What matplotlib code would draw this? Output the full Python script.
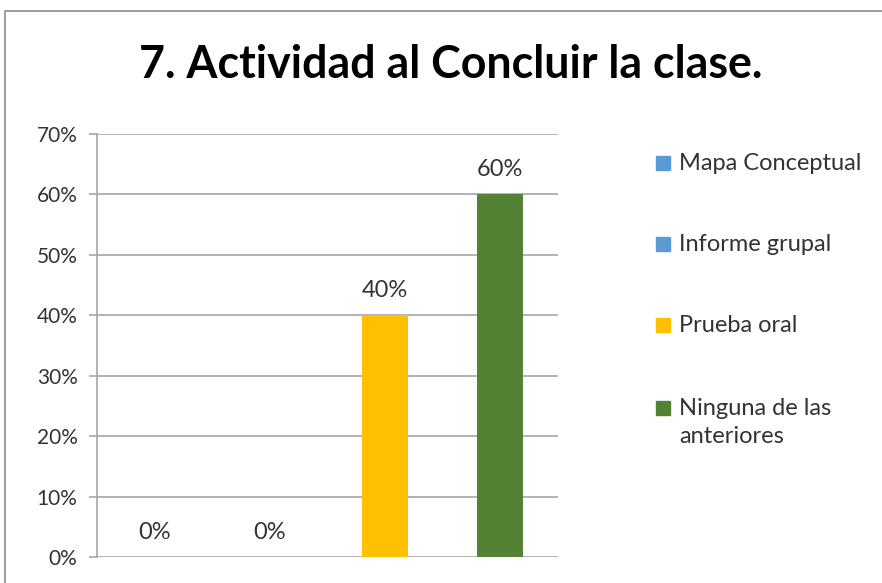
import matplotlib
matplotlib.use("Agg")
import matplotlib.pyplot as plt
from matplotlib.patches import Rectangle
from matplotlib.ticker import FuncFormatter, MultipleLocator

plt.rcParams['font.family'] = ['Lato', 'DejaVu Sans']

title = "7. Actividad al Concluir la clase."
categories = ["Mapa Conceptual", "Informe grupal", "Prueba oral", "Ninguna de las\nanteriores"]
values = [0.0, 0.0, 0.40, 0.60]
colors = ["#5B9BD5", "#5B9BD5", "#FFC000", "#548235"]
value_labels = ["0%", "0%", "40%", "60%"]

W, H = 882, 583
fig = plt.figure(figsize=(W / 100, H / 100), dpi=100)
fig.patch.set_facecolor("white")

# outer chart frame
fig.patches.append(Rectangle((5 / W, -0.05), 1.1, 1 - 11 / H + 0.05, transform=fig.transFigure,
                             fill=False, edgecolor="#8C8C8C", linewidth=1.2))

x0, x1 = 97, 558
ytop, ybot = 134, 557
ax = fig.add_axes([x0 / W, 1 - ybot / H, (x1 - x0) / W, (ybot - ytop) / H])
ax.set_facecolor("none")

xs = list(range(len(categories)))
ax.bar(xs, values, width=0.4, color=colors, zorder=3)
ax.set_xlim(-0.5, len(categories) - 0.5)
ax.set_ylim(0, 0.70)
ax.yaxis.set_major_locator(MultipleLocator(0.10))
ax.yaxis.set_major_formatter(FuncFormatter(lambda v, p: f"{round(v * 100)}%"))
ax.grid(axis="y", color="#A6A6A6", linewidth=1.2, zorder=0)
ax.set_xticks([])
for s in ["top", "right", "bottom"]:
    ax.spines[s].set_visible(False)
ax.spines["left"].set_color("#A6A6A6")
ax.spines["left"].set_linewidth(1.2)
ax.tick_params(axis="y", length=6, width=1.2, color="#A6A6A6", labelsize=15,
               labelcolor="#333333", pad=8)

for x, v, lab in zip(xs, values, value_labels):
    ax.annotate(lab, (x, v), xytext=(0, 13), textcoords="offset points",
                ha="center", va="baseline", fontsize=17, color="#333333")

fig.text(451 / W, 1 - 78 / H, title, ha="center", va="baseline",
         fontsize=32.2, fontweight="bold", color="black")

# legend
leg_base = [170, 251, 332, 415]
line_gap = 28
for cat, col, yb in zip(categories, colors, leg_base):
    fig.patches.append(Rectangle((656 / W, 1 - yb / H), 14 / W, 14 / H,
                                 transform=fig.transFigure, color=col))
    for i, line in enumerate(cat.split("\n")):
        fig.text(679 / W, 1 - (yb + i * line_gap) / H, line, ha="left", va="baseline",
                 fontsize=17, color="#333333")

fig.savefig("out.png", dpi=100)
